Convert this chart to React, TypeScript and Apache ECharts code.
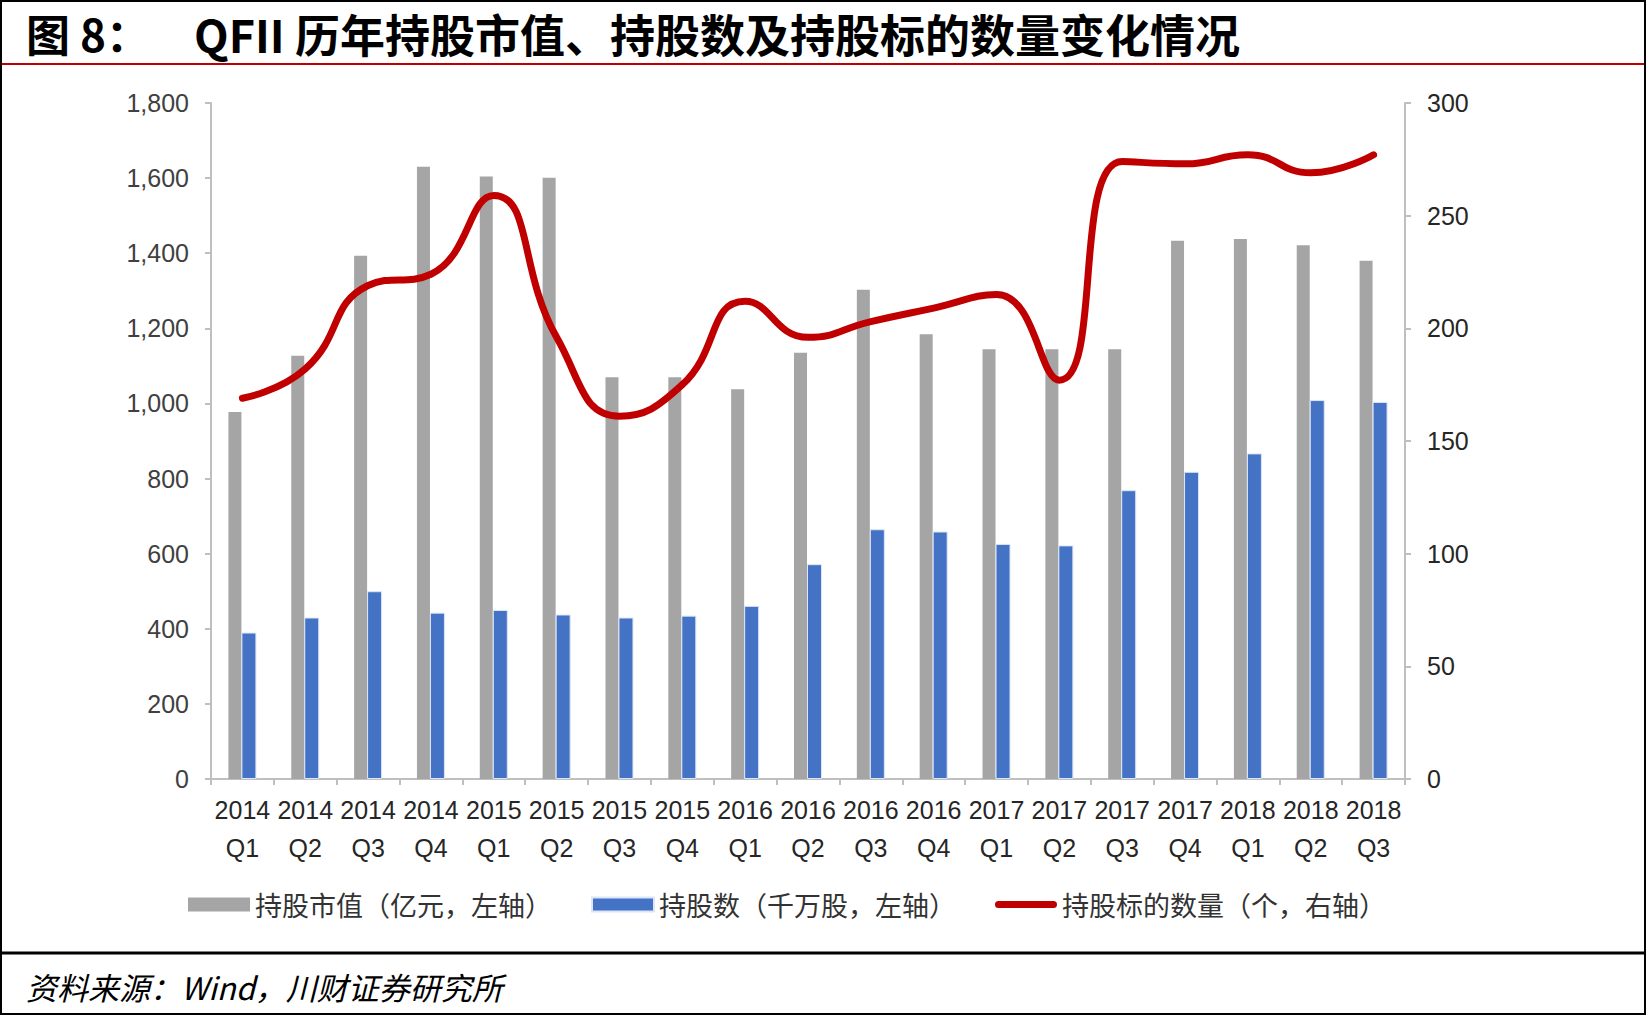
import React, { useEffect, useRef } from "react";
import * as echarts from "echarts";

const categories = [
  "2014\nQ1", "2014\nQ2", "2014\nQ3", "2014\nQ4",
  "2015\nQ1", "2015\nQ2", "2015\nQ3", "2015\nQ4",
  "2016\nQ1", "2016\nQ2", "2016\nQ3", "2016\nQ4",
  "2017\nQ1", "2017\nQ2", "2017\nQ3", "2017\nQ4",
  "2018\nQ1", "2018\nQ2", "2018\nQ3",
];
const marketValue = [977, 1127, 1393, 1630, 1604, 1601, 1070, 1070, 1038, 1135, 1303, 1184, 1144, 1144, 1144, 1433, 1438, 1421, 1380];
const sharesHeld = [390, 430, 500, 443, 450, 438, 430, 435, 461, 572, 665, 659, 626, 622, 769, 818, 867, 1009, 1004];
const stockCount = [169, 182, 219, 224, 259, 196, 161, 175, 212, 196, 203, 209, 215, 177, 274, 273, 277, 269, 277];

const seriesNames = ["持股市值（亿元，左轴）", "持股数（千万股，左轴）", "持股标的数量（个，右轴）"];
const titleLead = "图 8：";
const titleMain = "QFII 历年持股市值、持股数及持股标的数量变化情况";
const sourceText = "资料来源：Wind，川财证券研究所";

const W = 1646;
const H = 1015;
const CJK = "'Noto Sans CJK SC', sans-serif";
const NUM = "'Liberation Sans', Arial, sans-serif";
const LINE_ICON = "path://M3.5,0 L58.5,0 A3.5,3.5 0 0 1 58.5,7 L3.5,7 A3.5,3.5 0 0 1 3.5,0 Z";

export default function App() {
  const ref = useRef<HTMLDivElement>(null);
  useEffect(() => {
    if (!ref.current) return;
    const chart = echarts.init(ref.current, undefined, { renderer: "svg" });
    const axisGray = "#BFBFBF";
    chart.setOption({
      animation: false,
      backgroundColor: "#ffffff",
      grid: { left: 211, right: 241, top: 103, bottom: 236, containLabel: false },
      legend: {
        left: 183,
        top: 886,
        itemWidth: 62,
        itemHeight: 14,
        itemGap: 39,
        symbolKeepAspect: true,
        textStyle: { fontFamily: CJK, fontSize: 27, color: "#333333" },
        data: [
          { name: seriesNames[0], icon: "rect" },
          { name: seriesNames[1], icon: "rect" },
          { name: seriesNames[2], icon: LINE_ICON, itemStyle: { color: "#C00000" } },
        ],
      },
      xAxis: {
        type: "category",
        data: categories,
        boundaryGap: true,
        axisLine: { lineStyle: { color: axisGray, width: 2 } },
        axisTick: { show: true, length: 6, lineStyle: { color: axisGray, width: 2 } },
        axisLabel: {
          interval: 0,
          margin: 12,
          fontFamily: NUM,
          fontSize: 25,
          lineHeight: 38,
          color: "#262626",
        },
      },
      yAxis: [
        {
          type: "value",
          min: 0,
          max: 1800,
          interval: 200,
          position: "left",
          splitLine: { show: false },
          axisLine: { show: true, lineStyle: { color: axisGray, width: 2 } },
          axisTick: { show: true, length: 6, lineStyle: { color: axisGray, width: 2 } },
          axisLabel: {
            margin: 22,
            fontFamily: NUM,
            fontSize: 25,
            color: "#404040",
            formatter: (v: number) => (v >= 1000 ? Math.floor(v / 1000) + "," + String(v % 1000).padStart(3, "0") : String(v)),
          },
        },
        {
          type: "value",
          min: 0,
          max: 300,
          interval: 50,
          position: "right",
          splitLine: { show: false },
          axisLine: { show: true, lineStyle: { color: axisGray, width: 2 } },
          axisTick: { show: true, length: 6, lineStyle: { color: axisGray, width: 2 } },
          axisLabel: { margin: 22, fontFamily: NUM, fontSize: 25, color: "#262626" },
        },
      ],
      series: [
        {
          name: seriesNames[0],
          type: "bar",
          yAxisIndex: 0,
          data: marketValue,
          barWidth: 13,
          barGap: "0%",
          itemStyle: { color: "#A5A5A5" },
        },
        {
          name: seriesNames[1],
          type: "bar",
          yAxisIndex: 0,
          data: sharesHeld,
          barWidth: 15,
          barGap: "0%",
          itemStyle: { color: "#4472C4", borderColor: "#DCE6F5", borderWidth: 1 },
        },
        {
          name: seriesNames[2],
          type: "line",
          yAxisIndex: 1,
          data: stockCount,
          smooth: 0.5,
          symbol: "none",
          showSymbol: false,
          lineStyle: { color: "#C00000", width: 7, cap: "round" },
          itemStyle: { color: "#C00000" },
          z: 5,
        },
      ],
      graphic: [
        {
          type: "rect",
          shape: { x: 1, y: 1, width: W - 2, height: H - 2 },
          style: { fill: "none", stroke: "#000000", lineWidth: 2 },
          silent: true,
          z: 100,
        },
        {
          type: "line",
          shape: { x1: 0, y1: 64, x2: W, y2: 64 },
          style: { stroke: "#C00000", lineWidth: 2 },
          silent: true,
        },
        {
          type: "line",
          shape: { x1: 0, y1: 953, x2: W, y2: 953 },
          style: { stroke: "#000000", lineWidth: 3 },
          silent: true,
        },
        {
          type: "text",
          x: 26,
          y: 33,
          style: {
            text: titleLead,
            fontFamily: CJK,
            fontSize: 44,
            fontWeight: "bold",
            fill: "#000000",
            verticalAlign: "middle",
          },
        },
        {
          type: "text",
          x: 194,
          y: 33,
          style: {
            text: titleMain,
            fontFamily: CJK,
            fontSize: 45,
            fontWeight: "bold",
            fill: "#000000",
            verticalAlign: "middle",
          },
        },
        {
          type: "text",
          x: 26,
          y: 986,
          style: {
            text: sourceText,
            fontFamily: CJK,
            fontSize: 31,
            fontStyle: "italic",
            fill: "#000000",
            verticalAlign: "middle",
          },
        },
      ],
    });
    return () => chart.dispose();
  }, []);
  return (
    <div
      ref={ref}
      style={{ position: "absolute", left: 0, top: 0, width: W, height: H, background: "#fff" }}
    />
  );
}
